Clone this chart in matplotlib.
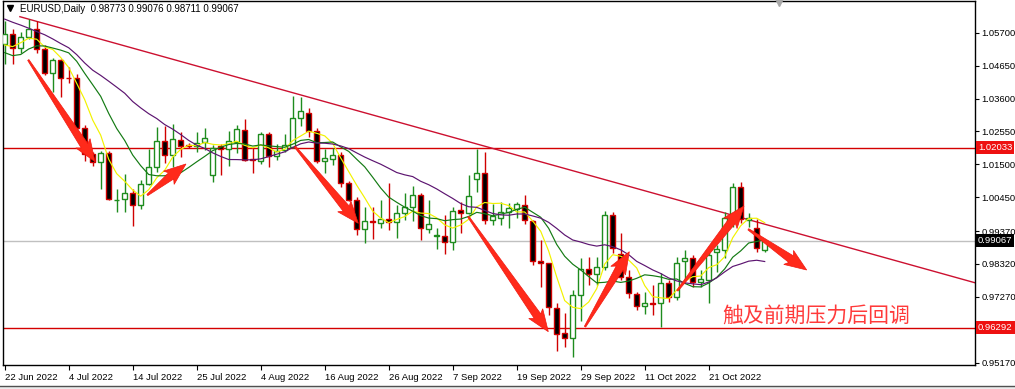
import numpy as np
import pandas as pd
import matplotlib
matplotlib.use("Agg")
import matplotlib.pyplot as plt
from matplotlib.patches import Rectangle, Polygon
from matplotlib.lines import Line2D

plt.rcParams['font.family'] = ['Liberation Sans', 'Noto Sans CJK SC', 'DejaVu Sans']

# ---------------- data (EURUSD daily) ----------------
opens = [1.0535, 1.0567, 1.0522, 1.0555, 1.0583, 1.0519, 1.0442, 1.0484, 1.0426, 1.0424,
         1.0266, 1.0182, 1.0158, 1.0185, 1.0035, 1.0040, 1.0060, 1.0019, 1.0087, 1.0142,
         1.0226, 1.0181, 1.0228, 1.0212, 1.0208, 1.0220, 1.0116, 1.0209, 1.0199, 1.0222,
         1.0260, 1.0166, 1.0161, 1.0246, 1.0176, 1.0197, 1.0206, 1.0298, 1.0313, 1.0255,
         1.0160, 1.0168, 1.0180, 1.0089, 1.0036, 0.9943, 0.9969, 0.9964, 0.9976, 0.9967,
         0.9994, 1.0013, 1.0052, 0.9945, 0.9922, 0.9922, 0.9903, 1.0004, 0.9996, 1.0102,
         1.0123, 0.9973, 0.9978, 0.9999, 1.0006, 1.0020, 0.9970, 0.9840, 0.9834, 0.9692,
         0.9611, 0.9595, 0.9733, 0.9815, 0.9800, 0.9823, 0.9988, 0.9864, 0.9789, 0.9736,
         0.9697, 0.9708, 0.9706, 0.9772, 0.9726, 0.9842, 0.9850, 0.9773, 0.9781, 0.9871,
         0.9877, 0.9978, 1.0077, 0.9972, 0.9948, 0.98773]
highs = [1.0606, 1.0581, 1.0571, 1.0615, 1.0606, 1.0530, 1.0488, 1.0486, 1.0462, 1.0437,
         1.0276, 1.0190, 1.0193, 1.0193, 1.0072, 1.0120, 1.0070, 1.0099, 1.0200, 1.0269,
         1.0273, 1.0278, 1.0254, 1.0218, 1.0254, 1.0265, 1.0212, 1.0214, 1.0256, 1.0275,
         1.0294, 1.0206, 1.0254, 1.0253, 1.0214, 1.0246, 1.0368, 1.0364, 1.0329, 1.0266,
         1.0200, 1.0201, 1.0190, 1.0096, 1.0046, 1.0015, 1.0015, 1.0036, 1.0090, 1.0020,
         1.0058, 1.0081, 1.0058, 1.0036, 0.9946, 0.9988, 1.0015, 1.0031, 1.0116, 1.0198,
         1.0190, 1.0023, 1.0031, 1.0028, 1.0031, 1.0052, 0.9972, 0.9908, 0.9835, 0.9709,
         0.9675, 0.9750, 0.9850, 0.9853, 0.9853, 1.0002, 0.9999, 0.9930, 0.9813, 0.9743,
         0.9743, 0.9765, 0.9802, 0.9781, 0.9853, 0.9877, 0.9860, 0.9813, 0.9877, 0.9893,
         0.9999, 1.0090, 1.0093, 0.9996, 0.9976, 0.99076]
lows = [1.0469, 1.0469, 1.0505, 1.0550, 1.0506, 1.0436, 1.0382, 1.0366, 1.0409, 1.0235,
        1.0162, 1.0144, 1.0072, 1.0035, 0.9999, 0.9999, 0.9952, 1.0007, 1.0085, 1.0125,
        1.0154, 1.0140, 1.0174, 1.0203, 1.0190, 1.0196, 1.0095, 1.0116, 1.0146, 1.0186,
        1.0160, 1.0121, 1.0151, 1.0141, 1.0164, 1.0190, 1.0201, 1.0273, 1.0236, 1.0155,
        1.0122, 1.0149, 1.0078, 1.0033, 0.9926, 0.9900, 0.9911, 0.9946, 0.9940, 0.9914,
        0.9972, 0.9970, 0.9910, 0.9930, 0.9880, 0.9864, 0.9877, 0.9930, 0.9990, 1.0063,
        0.9960, 0.9956, 0.9956, 0.9946, 0.9978, 0.9960, 0.9830, 0.9760, 0.9669, 0.9553,
        0.9568, 0.9536, 0.9650, 0.9765, 0.9765, 0.9813, 0.9868, 0.9781, 0.9723, 0.9685,
        0.9673, 0.9669, 0.9632, 0.9712, 0.9717, 0.9781, 0.9760, 0.9760, 0.9707, 0.9807,
        0.9850, 0.9950, 0.9962, 0.9950, 0.9871, 0.98711]
closes = [1.0567, 1.0522, 1.0555, 1.0583, 1.0519, 1.0442, 1.0484, 1.0426, 1.0424, 1.0266,
          1.0182, 1.0158, 1.0185, 1.0039, 1.0037, 1.0060, 1.0019, 1.0087, 1.0142, 1.0226,
          1.0181, 1.0230, 1.0210, 1.0208, 1.0217, 1.0233, 1.0201, 1.0199, 1.0226, 1.0262,
          1.0164, 1.0163, 1.0246, 1.0178, 1.0194, 1.0211, 1.0299, 1.0320, 1.0255, 1.0160,
          1.0170, 1.0179, 1.0089, 1.0036, 0.9943, 0.9969, 0.9967, 0.9976, 0.9965, 0.9994,
          1.0015, 1.0052, 0.9946, 0.9958, 0.9925, 0.9903, 1.0001, 0.9995, 1.0049, 1.0123,
          0.9973, 0.9985, 0.9999, 1.0012, 1.0022, 0.9972, 0.9840, 0.9836, 0.9695, 0.9610,
          0.9595, 0.9733, 0.9815, 0.9800, 0.9823, 0.9988, 0.9882, 0.9791, 0.9738, 0.9698,
          0.9707, 0.9705, 0.9772, 0.9726, 0.9834, 0.9850, 0.9775, 0.9783, 0.9861, 0.9879,
          0.9978, 1.0077, 0.9975, 0.9978, 0.9882, 0.99067]
# closes of the 19 sessions before the first visible bar (seed the moving averages)
warmup_closes = [1.0724, 1.0735, 1.0781, 1.0733, 1.0647, 1.0749, 1.0719, 1.0695, 1.0704, 1.0716,
                 1.0617, 1.0519, 1.0408, 1.0417, 1.0448, 1.0548, 1.0493, 1.0511, 1.0535]
ma_periods = [5, 10, 20]

x_tick_bars = [0, 8, 16, 24, 32, 40, 48, 56, 64, 72, 80, 88]
x_tick_labels = ["22 Jun 2022", "4 Jul 2022", "14 Jul 2022", "25 Jul 2022", "4 Aug 2022",
                 "16 Aug 2022", "26 Aug 2022", "7 Sep 2022", "19 Sep 2022", "29 Sep 2022",
                 "11 Oct 2022", "21 Oct 2022"]
y_tick_values = [1.05700, 1.04650, 1.03600, 1.02550, 1.01500, 1.00450,
                 0.99370, 0.98320, 0.97270, 0.95170]

resistance_level = 1.02033
support_level = 0.96292
last_price = 0.99067

trend_bars = [1.9, 121.3]
trend_prices = [1.0621, 0.9772]

arrow_tails = [(2.95, 1.04829), (17.83, 1.00521), (36.29, 1.02063), (57.95, 0.99829),
               (72.54, 0.96319), (84.08, 0.97468), (92.95, 0.99427)]
arrow_tips = [(11.29, 1.01584), (22.66, 1.01511), (44.2, 0.99618), (67.95, 0.96160),
              (78.08, 0.98712), (92.41, 1.00170), (100.25, 0.98128)]

note_text = "触及前期压力后回调"
note_pos = (101.4, 0.9666)
title_text = "EURUSD,Daily  0.98773 0.99076 0.98711 0.99067"

# ---------------- figure ----------------
W, H = 1015, 389
fig = plt.figure(figsize=(W / 100, H / 100), dpi=100)
fig.patch.set_facecolor('white')
ax = fig.add_axes([3 / W, 1 - 365 / H, 972 / W, 364 / H])
ax.set_xlim(-0.2125, 121.2875)
ax.set_ylim(0.95097, 1.06711)

for s in ax.spines.values():
    s.set_color('black')
    s.set_linewidth(1.0)

# horizontal levels and trend line
ax.axhline(resistance_level, color='#d40000', lw=1.0, zorder=1)
ax.axhline(support_level, color='#d40000', lw=1.0, zorder=1)
ax.axhline(last_price, color='#c0c0c0', lw=1.0, zorder=1)
ax.plot(trend_bars, trend_prices, color='#cc1030', lw=1.0, zorder=1)

# candles
bull_c, bear_c = '#1e8c1e', '#d00000'
n = len(closes)
for i in range(n):
    o, h, l, c = opens[i], highs[i], lows[i], closes[i]
    up = c > o
    col = bull_c if up else bear_c
    ax.plot([i, i], [l, h], color=col, lw=1.0, zorder=2, solid_capstyle='butt')
    lo, hi = min(o, c), max(o, c)
    ax.add_patch(Rectangle((i - 0.3, lo), 0.6, max(hi - lo, 0.00002),
                           facecolor='white' if up else 'black',
                           edgecolor=col, lw=1.0, zorder=3))

# moving averages
all_c = pd.Series(warmup_closes + closes)
ma_colors = ['#f2f200', '#137a13', '#5c1470']
idx = np.arange(n)
for p, col in zip(ma_periods, ma_colors):
    ma = all_c.rolling(p).mean().values[len(warmup_closes):]
    ax.plot(idx, ma, color=col, lw=0.85, zorder=4)

# red arrows (built in pixel space, then mapped back to data)
fig.canvas.draw()
to_px = ax.transData
to_data = ax.transData.inverted()
for (tx, ty), (hx, hy) in zip(arrow_tails, arrow_tips):
    p0 = np.array(to_px.transform((tx, ty)))
    p1 = np.array(to_px.transform((hx, hy)))
    d = p1 - p0
    L = np.hypot(*d)
    u = d / L
    nrm = np.array([-u[1], u[0]])
    head_len, head_w, neck_w, tail_w = 19.0, 17.0, 8.0, 1.5
    base = p1 - u * head_len
    barb = p1 - u * (head_len + 3.0)
    pts = [p0 + nrm * tail_w / 2,
           base + nrm * neck_w / 2,
           barb + nrm * head_w / 2,
           p1,
           barb - nrm * head_w / 2,
           base - nrm * neck_w / 2,
           p0 - nrm * tail_w / 2]
    pts_d = to_data.transform(np.array(pts))
    ax.add_patch(Polygon(pts_d, closed=True, facecolor='#ff2a1a', edgecolor='#f01810',
                         lw=0.5, zorder=8))

ax.text(note_pos[0], note_pos[1], note_text, color='#ff3a3a', fontsize=15,
        family=['Noto Sans CJK SC', 'DejaVu Sans'], fontweight='light',
        ha='center', va='center', zorder=9)

# axes ticks
ax.yaxis.tick_right()
ax.set_yticks(y_tick_values)
ax.set_yticklabels([f"{v:.5f}" for v in y_tick_values])
ax.tick_params(axis='y', direction='out', length=3, width=0.8, pad=1.5, labelsize=6.8)
ax.set_xticks(x_tick_bars)
ax.set_xticklabels(x_tick_labels, ha='left')
ax.tick_params(axis='x', direction='out', length=3.5, width=0.8, pad=2.0, labelsize=6.8)

# price tags on the right axis
for val, bg in [(resistance_level, '#ee1111'), (last_price, '#000000'), (support_level, '#ee1111')]:
    ax.text(1.0 + 3 / 972, val, f"{val:.5f}", transform=ax.get_yaxis_transform(),
            ha='left', va='center', color='white', fontsize=6.8,
            bbox=dict(boxstyle='square,pad=0.2', fc=bg, ec='none'),
            clip_on=False, zorder=10)

# header
fig.text(20 / W, 1 - 8.5 / H, title_text, fontsize=7.0, va='center', ha='left')
fig.add_artist(Line2D([10 / W], [1 - 8 / H], marker='v', markersize=4, color='black',
                      linestyle='none', transform=fig.transFigure))
fig.add_artist(Line2D([779 / W], [1 - 2 / H], marker='v', markersize=6, color='#a8a8a8',
                      linestyle='none', transform=fig.transFigure))

# bottom status strip
fig.add_artist(Rectangle((0, 0), 1, 3 / H, transform=fig.transFigure,
                         facecolor='#ececec', edgecolor='none'))
fig.add_artist(Line2D([0, 1], [1 - 386 / H] * 2, color='#505050', lw=1.0,
                      transform=fig.transFigure))

fig.savefig('out.png', dpi=100, facecolor='white')
